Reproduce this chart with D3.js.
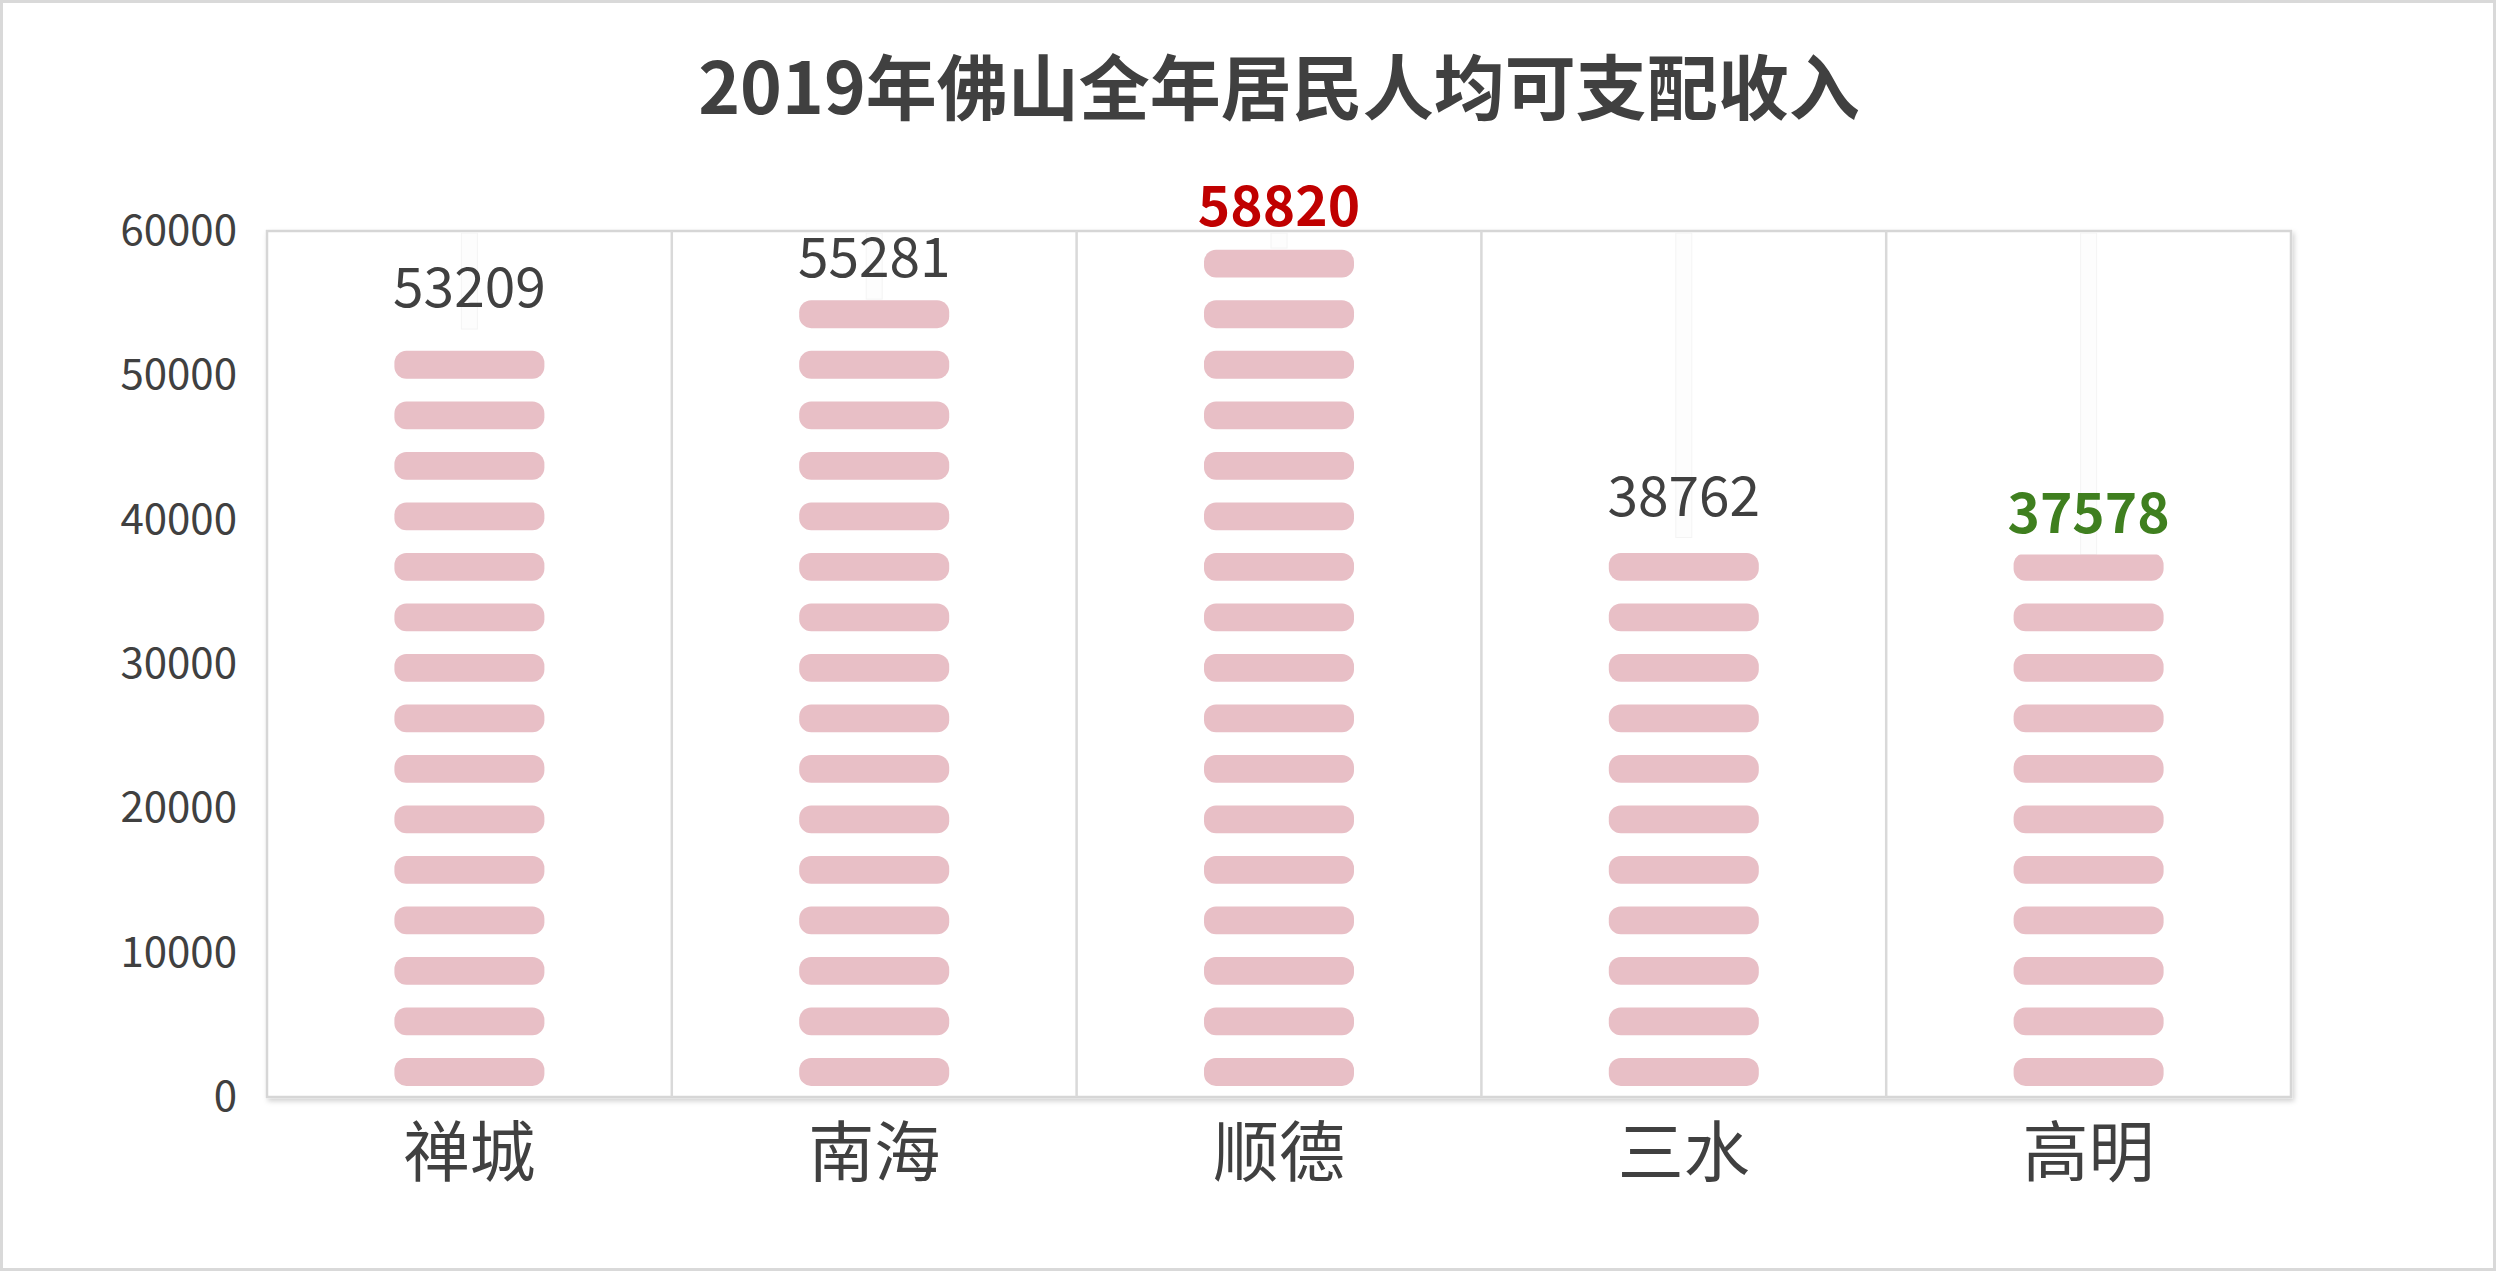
<!DOCTYPE html>
<html>
<head>
<meta charset="utf-8">
<script src="https://cdn.jsdelivr.net/npm/d3@7"></script>
<style>
  html, body { margin: 0; padding: 0; background: #fff; }
  svg { display: block; }
</style>
</head>
<body>
<svg id="chart"></svg>
<script>
// data
const districts = ["禅城", "南海", "顺德", "三水", "高明"];
const income = [53209, 55281, 58820, 38762, 37578];
const yTicks = [0, 10000, 20000, 30000, 40000, 50000, 60000];
const titleText = "2019年佛山全年居民人均可支配收入";

const width = 2496;
const height = 1280;
const margin = {top : 231, left : 267, bottom : 183, right : 205};

// one pill per 3500 units, stacked from the axis up (picture "stack" fill)
const unit = 3500;
const pillLo = 0.22, pillHi = 0.77;
const pillW = 150;
const pillColor = "#e8bfc6";
const labelColor = {"顺德": "#c00000", "高明": "#3f7f1f"};
const font = "'Noto Sans CJK SC', 'Noto Sans', sans-serif";

const svg = d3.select("#chart")
    .attr("width", width)
    .attr("height", height)
    .attr("viewBox", [0, 0, width, height]);

const x = d3.scaleBand()
    .domain(districts)
    .range([margin.left, width - margin.right])
    .padding(0);

const y = d3.scaleLinear()
    .domain([0, 60000])
    .range([height - margin.bottom, margin.top]);

const defs = svg.append("defs");
defs.append("filter")
    .attr("id", "shadow")
    .attr("x", "-5%").attr("y", "-5%")
    .attr("width", "110%").attr("height", "110%")
    .append("feDropShadow")
    .attr("dx", 2).attr("dy", 3)
    .attr("stdDeviation", 2.5)
    .attr("flood-color", "#000")
    .attr("flood-opacity", 0.18);

// outer border
svg.append("rect")
    .attr("x", 1.5).attr("y", 1.5)
    .attr("width", width - 3).attr("height", height - 12)
    .attr("fill", "#fff")
    .attr("stroke", "#d9d9d9")
    .attr("stroke-width", 3);

// title
svg.append("text")
    .attr("x", (x.range()[0] + x.range()[1]) / 2)
    .attr("y", 114)
    .attr("text-anchor", "middle")
    .attr("font-family", font)
    .attr("font-weight", "bold")
    .attr("font-size", 71)
    .attr("fill", "#404040")
    .text(titleText);

// plot area frame
svg.append("rect")
    .attr("x", x.range()[0]).attr("y", y(60000))
    .attr("width", x.range()[1] - x.range()[0])
    .attr("height", y(0) - y(60000))
    .attr("fill", "#fff")
    .attr("stroke", "#d6d6d6")
    .attr("stroke-width", 2.5)
    .attr("filter", "url(#shadow)");

// category separators
svg.append("g")
    .selectAll("line")
    .data(districts.slice(1))
    .join("line")
    .attr("x1", d => x(d)).attr("x2", d => x(d))
    .attr("y1", y(60000)).attr("y2", y(0))
    .attr("stroke", "#d9d9d9")
    .attr("stroke-width", 2.5);

const rows = districts.map((d, i) => ({name: d, value: income[i]}));

// faint guide above each bar
svg.append("g")
    .selectAll("rect")
    .data(rows)
    .join("rect")
    .attr("x", d => x(d.name) + x.bandwidth() / 2 - 8)
    .attr("y", y(60000) + 2)
    .attr("width", 16)
    .attr("height", d => Math.max(0, y(d.value) - y(60000) - 2))
    .attr("fill", "#fdfdfd")
    .attr("stroke", "#f4f4f4")
    .attr("stroke-width", 1);

// clip each bar at its value
defs.selectAll("clipPath")
    .data(rows)
    .join("clipPath")
    .attr("id", (d, i) => "clip" + i)
    .append("rect")
    .attr("x", d => x(d.name))
    .attr("y", d => y(d.value))
    .attr("width", x.bandwidth())
    .attr("height", d => y(0) - y(d.value));

const bars = svg.append("g")
    .selectAll("g")
    .data(rows)
    .join("g")
    .attr("clip-path", (d, i) => `url(#clip${i})`);

bars.selectAll("rect")
    .data(d => d3.range(Math.ceil(d.value / unit)).map(k => ({name: d.name, k})))
    .join("rect")
    .attr("x", d => x(d.name) + x.bandwidth() / 2 - pillW / 2)
    .attr("y", d => y((d.k + pillHi) * unit))
    .attr("width", pillW)
    .attr("height", d => y((d.k + pillLo) * unit) - y((d.k + pillHi) * unit))
    .attr("rx", 12)
    .attr("fill", pillColor);

// value labels
svg.append("g")
    .selectAll("text")
    .data(rows)
    .join("text")
    .attr("x", d => x(d.name) + x.bandwidth() / 2)
    .attr("y", d => y(d.value) - 22)
    .attr("text-anchor", "middle")
    .attr("font-family", font)
    .attr("font-size", 55)
    .attr("font-weight", d => labelColor[d.name] ? "bold" : "normal")
    .attr("fill", d => labelColor[d.name] || "#404040")
    .text(d => d.value);

// y axis
const yAxis = g => g
    .attr("transform", `translate(${margin.left - 14},0)`)
    .call(d3.axisLeft(y).tickValues(yTicks).tickSize(0).tickPadding(16).tickFormat(d3.format("d")))
    .call(g => g.select(".domain").remove())
    .call(g => g.selectAll("text")
        .attr("font-family", font)
        .attr("font-size", 42)
        .attr("fill", "#404040"));

// x axis
const xAxis = g => g
    .attr("transform", `translate(0,${y(0)})`)
    .call(d3.axisBottom(x).tickSize(0).tickPadding(32))
    .call(g => g.select(".domain").remove())
    .call(g => g.selectAll("text")
        .attr("font-family", font)
        .attr("font-size", 66)
        .attr("fill", "#404040"));

svg.append("g").call(yAxis);
svg.append("g").call(xAxis);
</script>
</body>
</html>
